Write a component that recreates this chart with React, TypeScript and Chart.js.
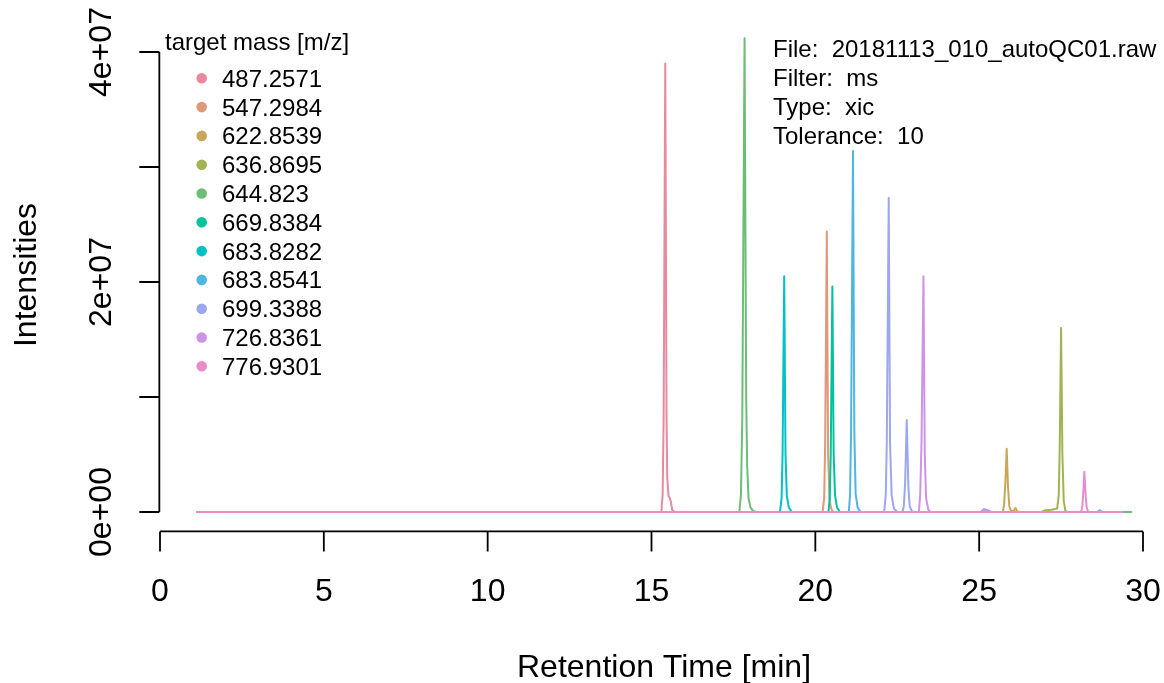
import React, { useEffect, useRef } from 'react';
import { Chart, registerables } from 'chart.js';

Chart.register(...registerables);

// ---- data (retention time [min], intensity) ----
const s487 = [[1.10, 0], [15.30, 0], [15.34, 1.5e6], [15.37, 8e6], [15.42, 39.0e6], [15.46, 8e6], [15.48, 3e6], [15.52, 1.4e6], [15.56, 1.2e6], [15.59, 0.9e6], [15.63, 0.2e6], [15.70, 0], [29.36, 0]];
const s547 = [[1.10, 0], [20.22, 0], [20.27, 1.2e6], [20.30, 6e6], [20.35, 24.4e6], [20.39, 5e6], [20.43, 1.2e6], [20.48, 0.3e6], [20.55, 0], [29.40, 0]];
const s622 = [[1.10, 0], [25.72, 0], [25.76, 0.6e6], [25.80, 2.6e6], [25.84, 5.5e6], [25.88, 2.2e6], [25.92, 0.5e6], [25.97, 0.1e6], [26.05, 0.1e6], [26.11, 0.35e6], [26.16, 0.05e6], [26.25, 0], [29.40, 0]];
const s636 = [[1.10, 0], [26.90, 0], [27.02, 0.15e6], [27.20, 0.2e6], [27.38, 0.3e6], [27.43, 1.5e6], [27.46, 6e6], [27.50, 16.0e6], [27.54, 5e6], [27.58, 1e6], [27.63, 0.1e6], [27.70, 0], [29.40, 0]];
const s644 = [[1.10, 0], [17.68, 0], [17.73, 1.5e6], [17.77, 8e6], [17.84, 41.2e6], [17.89, 10e6], [17.92, 4e6], [17.96, 1.2e6], [18.02, 0.4e6], [18.10, 0.1e6], [18.20, 0], [29.67, 0]];
const s669 = [[1.10, 0], [20.40, 0], [20.44, 1.2e6], [20.47, 5e6], [20.52, 19.6e6], [20.56, 5e6], [20.60, 1.5e6], [20.66, 0.4e6], [20.75, 0], [29.40, 0]];
const s6838282 = [[1.10, 0], [18.92, 0], [18.97, 1.2e6], [19.00, 5e6], [19.05, 20.5e6], [19.09, 5e6], [19.13, 1.4e6], [19.19, 0.4e6], [19.28, 0], [29.40, 0]];
const s6838541 = [[1.10, 0], [21.02, 0], [21.06, 1.5e6], [21.09, 7e6], [21.15, 31.4e6], [21.19, 7e6], [21.23, 1.6e6], [21.29, 0.4e6], [21.38, 0], [29.40, 0]];
const s699 = [[1.10, 0], [22.10, 0], [22.15, 1.5e6], [22.18, 6e6], [22.24, 27.3e6], [22.28, 6e6], [22.33, 1.4e6], [22.40, 0.3e6], [22.50, 0], [22.66, 0], [22.70, 0.5e6], [22.74, 2.5e6], [22.79, 8.0e6], [22.84, 2.2e6], [22.88, 0.5e6], [22.95, 0.05e6], [23.05, 0], [25.05, 0], [25.15, 0.25e6], [25.22, 0.2e6], [25.38, 0], [28.60, 0], [28.68, 0.17e6], [28.76, 0], [29.40, 0]];
const s726 = [[1.10, 0], [23.16, 0], [23.20, 1.5e6], [23.24, 6e6], [23.30, 20.5e6], [23.34, 5e6], [23.38, 1.2e6], [23.45, 0.2e6], [23.52, 0], [25.08, 0], [25.18, 0.2e6], [25.30, 0], [29.40, 0]];
const s776 = [[1.10, 0], [28.11, 0], [28.15, 0.5e6], [28.18, 1.8e6], [28.21, 3.5e6], [28.25, 1.5e6], [28.28, 0.4e6], [28.33, 0], [29.36, 0]];

const seriesData = [s487, s547, s622, s636, s644, s669, s6838282, s6838541, s699, s726, s776];
const legendLabels = ['487.2571', '547.2984', '622.8539', '636.8695', '644.823', '669.8384', '683.8282', '683.8541', '699.3388', '726.8361', '776.9301'];
const seriesColors = ['#E8899E', '#DF987A', '#C8A65A', '#A2B452', '#6CBD76', '#00C39D', '#00C1C8', '#4DB6E3', '#9BA7EE', '#CE93E6', '#E98CCB'];

const xTicks = [0, 5, 10, 15, 20, 25, 30];
const yTicks = [0, 1e7, 2e7, 3e7, 4e7];
const yTickLabels = ['0e+00', '', '2e+07', '', '4e+07'];
const xTitle = 'Retention Time [min]';
const yTitle = 'Intensities';
const legendTitle = 'target mass [m/z]';
const infoLines = ['File:  20181113_010_autoQC01.raw', 'Filter:  ms', 'Type:  xic', 'Tolerance:  10'];

const FONT = '"Liberation Sans", Arial, Helvetica, sans-serif';

const rAxesPlugin = {
  id: 'rAxes',
  afterDraw(chart: any) {
    const { ctx, scales } = chart;
    const xs = scales.x;
    const ys = scales.y;
    ctx.save();
    ctx.strokeStyle = '#000';
    ctx.fillStyle = '#000';
    ctx.lineWidth = 1.8;
    ctx.lineCap = 'butt';

    // x axis (R style: line from first to last tick, below plot)
    const axY = ys.getPixelForValue(-1.69e6);
    ctx.beginPath();
    ctx.moveTo(xs.getPixelForValue(xTicks[0]), axY);
    ctx.lineTo(xs.getPixelForValue(xTicks[xTicks.length - 1]), axY);
    xTicks.forEach((t) => {
      const px = xs.getPixelForValue(t);
      ctx.moveTo(px, axY);
      ctx.lineTo(px, axY + 20);
    });
    ctx.stroke();
    ctx.font = `32px ${FONT}`;
    ctx.textAlign = 'center';
    ctx.textBaseline = 'alphabetic';
    xTicks.forEach((t) => {
      ctx.fillText(String(t), xs.getPixelForValue(t), 601);
    });
    ctx.fillText(xTitle, 664, 677);

    // y axis
    const axX = xs.getPixelForValue(-0.02);
    ctx.beginPath();
    ctx.moveTo(axX, ys.getPixelForValue(yTicks[0]));
    ctx.lineTo(axX, ys.getPixelForValue(yTicks[yTicks.length - 1]));
    yTicks.forEach((t) => {
      const py = ys.getPixelForValue(t);
      ctx.moveTo(axX, py);
      ctx.lineTo(axX - 20, py);
    });
    ctx.stroke();
    yTicks.forEach((t, i) => {
      if (!yTickLabels[i]) return;
      ctx.save();
      ctx.translate(111, ys.getPixelForValue(t));
      ctx.rotate(-Math.PI / 2);
      ctx.fillText(yTickLabels[i], 0, 0);
      ctx.restore();
    });
    ctx.save();
    ctx.translate(36, 275);
    ctx.rotate(-Math.PI / 2);
    ctx.fillText(yTitle, 0, 0);
    ctx.restore();

    // legend
    ctx.font = `24px ${FONT}`;
    ctx.textAlign = 'left';
    ctx.fillText(legendTitle, 165, 49.5);
    legendLabels.forEach((lab, i) => {
      const cy = 78.3 + i * 28.8;
      ctx.fillStyle = seriesColors[i];
      ctx.beginPath();
      ctx.arc(201.7, cy, 5.3, 0, Math.PI * 2);
      ctx.fill();
      ctx.fillStyle = '#000';
      ctx.fillText(lab, 222, cy + 8.4);
    });

    // info text
    infoLines.forEach((line, i) => {
      ctx.fillText(line, 773, 57.3 + i * 29);
    });
    ctx.restore();
  },
};

export default function App() {
  const ref = useRef<HTMLCanvasElement | null>(null);
  useEffect(() => {
    if (!ref.current) return;
    const chart = new Chart(ref.current, {
      type: 'line',
      data: {
        datasets: seriesData.map((s, i) => ({
          label: legendLabels[i],
          data: s.map(([x, y]) => ({ x, y })),
          borderColor: seriesColors[i],
          backgroundColor: seriesColors[i],
          borderWidth: 2,
          pointRadius: 0,
          tension: 0,
          fill: false,
          clip: false as any,
          borderJoinStyle: 'round' as const,
          order: -i,
        })),
      },
      options: {
        animation: false,
        responsive: false,
        maintainAspectRatio: false,
        devicePixelRatio: 1,
        layout: { padding: { left: 160, right: 21, top: 52, bottom: 171 } },
        scales: {
          x: { type: 'linear', min: 0, max: 30, display: false },
          y: { type: 'linear', min: 0, max: 4e7, display: false },
        },
        plugins: {
          legend: { display: false },
          tooltip: { enabled: false },
        },
        events: [],
      },
      plugins: [rAxesPlugin],
    });
    return () => chart.destroy();
  }, []);
  return (
    <div style={{ position: 'fixed', left: 0, top: 0, width: 1164, height: 683, background: '#fff' }}>
      <canvas ref={ref} width={1164} height={683} style={{ width: 1164, height: 683 }} />
    </div>
  );
}
